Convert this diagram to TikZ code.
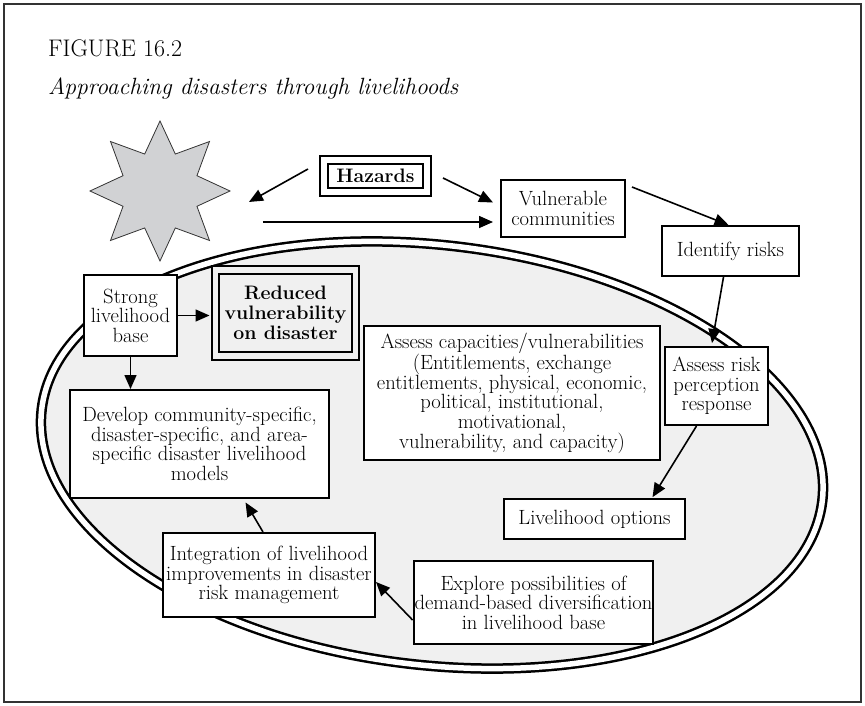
\documentclass[tikz,border=0pt]{standalone}
\usetikzlibrary{shapes.geometric,arrows.meta,positioning}
\definecolor{starfill}{RGB}{209,210,212}
\definecolor{ovalfill}{RGB}{240,240,240}
\begin{document}
\begin{tikzpicture}[x=1pt,y=-1pt,
  box/.style={draw,line width=2pt,fill=white,align=center,inner sep=1pt,font=\fontsize{20.6}{19.6}\selectfont},
  dbox/.style={draw,line width=2pt,double distance=5.5pt,align=center,inner sep=1pt,font=\fontsize{19.5}{20}\selectfont\bfseries},
  arr/.style={-{Triangle[length=14pt,width=12pt]},line width=1.6pt}]
\useasboundingbox (0,0) rectangle (865,706);
\draw[line width=1.2pt,black!80] (4,4) rectangle (861,702);
\node[anchor=base west,inner sep=0pt,font=\fontsize{24}{24}\selectfont] (fig) at (48,57) {FIGURE 16.2};
\node[anchor=base west,inner sep=0pt,font=\fontsize{23.5}{23.5}\selectfont\itshape] (cap) at (48,95) {Approaching disasters through livelihoods};
% the livelihood oval
\begin{scope}[shift={(432,455)},rotate=-6.7]
\draw[line width=2.5pt,double=white,double distance=5.5pt,fill=ovalfill] (0,0) ellipse (393 and 210);
\end{scope}
\node[star,star points=8,star point ratio=1.75,minimum size=140pt,inner sep=0pt,draw=black!80,line width=0.8pt,fill=starfill] (blast) at (160,191) {};
\node[dbox,double=white,minimum width=103pt,minimum height=32pt] (hazards) at (375.5,176) {Hazards};
\node[box,minimum width=124pt,minimum height=57pt] (vuln) at (563,208.5) {Vulnerable\\communities};
\node[box,minimum width=137pt,minimum height=50pt] (ident) at (730.5,251) {Identify risks};
\node[box,minimum width=103pt,minimum height=78pt] (perc) at (716.5,386) {Assess risk\\perception\\response};
\node[box,minimum width=181pt,minimum height=40pt] (opts) at (594.5,519) {Livelihood options};
\node[box,minimum width=296pt,minimum height=134pt] (capac) at (512,393) {Assess capacities/vulnerabilities\\(Entitlements, exchange\\entitlements, physical, economic,\\political, institutional,\\motivational,\\vulnerability, and capacity)};
\node[box,minimum width=93pt,minimum height=81pt] (strong) at (130.5,315.5) {Strong\\livelihood\\base};
\node[dbox,double=ovalfill,minimum width=140pt,minimum height=86pt] (reduced) at (285.5,313) {Reduced\\vulnerability\\on disaster};
\node[box,minimum width=259pt,minimum height=108pt] (devel) at (199.5,444) {Develop community-specific,\\disaster-specific, and area-\\specific disaster livelihood\\models};
\node[box,minimum width=212pt,minimum height=84pt] (integ) at (269,575) {Integration of livelihood\\improvements in disaster\\risk management};
\node[box,minimum width=239pt,minimum height=83pt] (explore) at (533.5,602.5) {Explore possibilities of\\demand-based diversification\\in livelihood base};
% arrows
\draw[arr] ([shift={(-15,-7)}]hazards.west) -- ([shift={(18,11)}]blast.east);
\draw[arr] ([shift={(15,2)}]hazards.east) -- ([shift={(-7,-6)}]vuln.west);
\draw[arr] ([shift={(32,31)}]blast.east) -- ([shift={(-7,13.5)}]vuln.west);
\draw[arr] ([shift={(6,8)}]vuln.north east) -- ([xshift=-2]ident.north);
\draw[arr,shorten >=3pt] ([xshift=-7]ident.south) -- ([xshift=-5]perc.north);
\draw[arr,shorten >=1pt] ([xshift=-20]perc.south) -- ([xshift=57.5]opts.north);
\draw[arr,shorten >=5pt] (strong.east) -- (strong.east -| reduced.west);
\draw[arr] (strong.south) -- (strong.south |- devel.north);
\draw[arr,shorten >=4pt] ([xshift=-6]integ.north) -- ([xshift=44]devel.south);
\draw[arr] ([yshift=-17.5]explore.west) -- ([yshift=-7]integ.east);
\end{tikzpicture}
\end{document}
